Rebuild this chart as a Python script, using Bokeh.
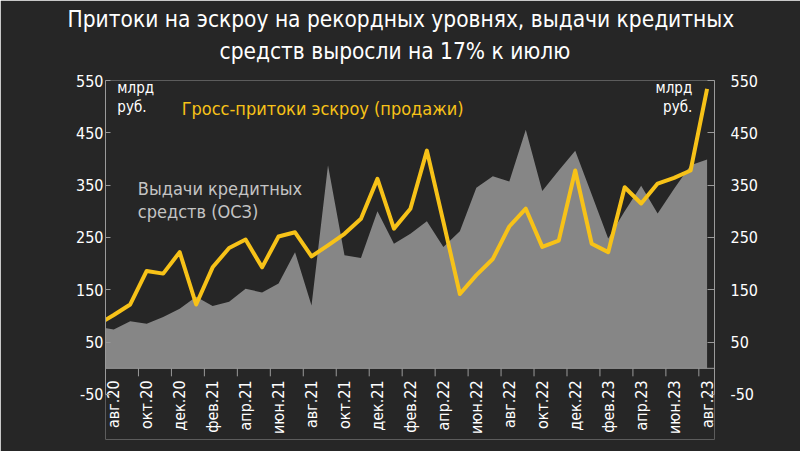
import math
from bokeh.plotting import figure
from bokeh.models import Range1d, LinearAxis, FixedTicker, Label, Span, Title
from bokeh.core.properties import value
from bokeh.embed import file_html
from bokeh.resources import INLINE

# ---- data ----
months = ["июл.20",
          "авг.20", "сен.20", "окт.20", "ноя.20", "дек.20", "янв.21", "фев.21", "мар.21",
          "апр.21", "май.21", "июн.21", "июл.21", "авг.21", "сен.21", "окт.21", "ноя.21",
          "дек.21", "янв.22", "фев.22", "мар.22", "апр.22", "май.22", "июн.22", "июл.22",
          "авг.22", "сен.22", "окт.22", "ноя.22", "дек.22", "янв.23", "фев.23", "мар.23",
          "апр.23", "май.23", "июн.23", "июл.23", "авг.23"]

escrow_inflows = [83, 102, 122, 186, 181, 222, 122, 193, 230, 246, 193, 252, 260, 214,
                  235, 257, 286, 362, 267, 305, 416, 280, 142, 178, 209, 271, 305, 232,
                  244, 378, 238, 222, 346, 315, 353, 364, 378, 534]

credit_issued = [80, 74, 90, 85, 98, 114, 137, 119, 127, 152, 145, 162, 222, 120,
                 388, 216, 211, 300, 238, 257, 281, 232, 262, 345, 367, 357, 456, 339,
                 378, 416, 332, 248, 300, 349, 296, 343, 388, 399]

x_tick_labels = ["авг.20", "окт.20", "дек.20", "фев.21", "апр.21", "июн.21", "авг.21",
                 "окт.21", "дек.21", "фев.22", "апр.22", "июн.22", "авг.22", "окт.22",
                 "дек.22", "фев.23", "апр.23", "июн.23", "авг.23"]

y_ticks = [-50, 50, 150, 250, 350, 450, 550]

title_line1 = "Притоки на эскроу на рекордных уровнях, выдачи кредитных"
title_line2 = "средств выросли на 17% к июлю"

# ---- styles ----
BG = "#262626"
GRAY_AREA = "#868686"
YELLOW = "#F7C218"
AXIS = "#9a9a9a"
FONT = "DejaVu Sans Condensed"

xs = [i - 1 for i in range(len(months))]
label_x = [months.index(m) - 1 for m in x_tick_labels]
tick_x = [lx - 0.5 for lx in label_x]

p = figure(width=800, height=451,
           x_range=Range1d(-0.5, 36.45), y_range=Range1d(-136, 550),
           output_backend="svg", toolbar_location=None,
           x_axis_location=None,
           min_border_left=105, min_border_right=86,
           min_border_top=80, min_border_bottom=12,
           background_fill_color=BG, border_fill_color=BG,
           outline_line_color=None)
p.grid.visible = False

# titles: a blank spacer nearest the frame, then line 2, then line 1 on top
p.add_layout(Title(text=" ", text_font_size="8px", standoff=4), "above")
p.add_layout(Title(text=title_line2, align="left", text_color="white", text_font=FONT,
                   text_font_size="22.5px", text_font_style="normal",
                   offset=114, standoff=4), "above")
p.add_layout(Title(text=title_line1, align="left", text_color="white", text_font=FONT,
                   text_font_size="22.5px", text_font_style="normal",
                   offset=-38, standoff=4), "above")

# area and line
p.varea(x=xs, y1=[0] * len(xs), y2=credit_issued, fill_color=GRAY_AREA, fill_alpha=1.0)
p.line(x=xs, y=escrow_inflows, line_color=YELLOW, line_width=4, line_join="round")

# x axis drawn at y = 0
p.add_layout(Span(location=0, dimension="width", line_color=AXIS, line_width=1))
p.ray(x=tick_x, y=[0] * len(tick_x), length=8, length_units="screen",
      angle=-math.pi / 2, line_color=AXIS, line_width=1)
p.text(x=label_x, y=[0] * len(label_x), text=x_tick_labels, angle=math.pi / 2,
       y_offset=12, text_align="right", text_baseline="middle",
       text_color="white", text_font=value(FONT), text_font_size="16px")

# y axes
def style_axis(ax, tick_in, standoff):
    ax.ticker = FixedTicker(ticks=y_ticks)
    ax.bounds = (-50, 550)
    ax.major_label_overrides = {t: str(t) for t in y_ticks}
    ax.axis_line_color = AXIS
    ax.major_tick_line_color = AXIS
    ax.major_tick_in = tick_in
    ax.major_tick_out = 0
    ax.minor_tick_in = 0
    ax.minor_tick_out = 0
    ax.minor_tick_line_color = None
    ax.major_label_text_color = "white"
    ax.major_label_text_font = FONT
    ax.major_label_text_font_size = "16px"
    ax.major_label_standoff = standoff

style_axis(p.yaxis[0], 5, 2)
right_axis = LinearAxis()
style_axis(right_axis, 7, 16)
p.add_layout(right_axis, "right")

# annotations
def add_label(x, y, text, color, size, align="left"):
    p.add_layout(Label(x=x, y=y, text=text, text_color=color, text_font=FONT,
                       text_font_size=size, text_align=align, text_baseline="middle"))

add_label(0.22, 535, "млрд", "white", "15px")
add_label(0.22, 500, "руб.", "white", "15px")
add_label(35.1, 535, "млрд", "white", "15px", "right")
add_label(35.1, 500, "руб.", "white", "15px", "right")
add_label(4.12, 497, "Гросс-притоки эскроу (продажи)", YELLOW, "18px")
add_label(1.46, 343, "Выдачи кредитных", "#c4c4c4", "18px")
add_label(1.46, 300, "средств (ОСЗ)", "#c4c4c4", "18px")

open("out.html", "w").write(file_html(p, INLINE))
